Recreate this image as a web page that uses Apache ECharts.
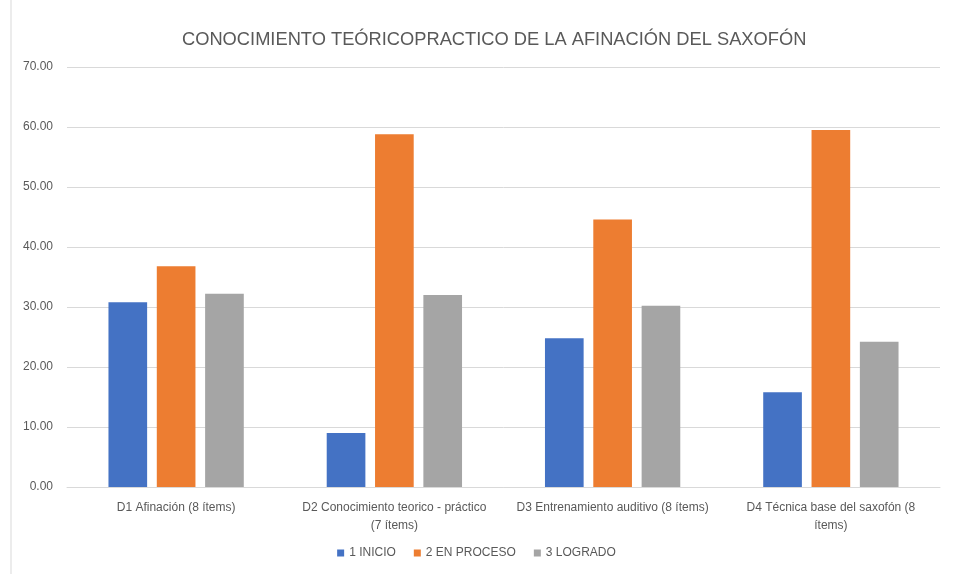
<!DOCTYPE html>
<html>
<head>
<meta charset="utf-8">
<script src="https://cdn.jsdelivr.net/npm/echarts@6/dist/echarts.min.js"></script>
<style>html,body{margin:0;padding:0;background:#fff}#c{width:953px;height:574px}</style>
</head>
<body>
<div id="c"></div>
<script>
const titleText = 'CONOCIMIENTO TEÓRICOPRACTICO DE LA AFINACIÓN DEL SAXOFÓN';
const categories = [
  'D1 Afinación (8 ítems)',
  'D2 Conocimiento teorico - práctico\n(7 ítems)',
  'D3 Entrenamiento auditivo (8 ítems)',
  'D4 Técnica base del saxofón (8\nítems)'
];
const seriesNames = ['1 INICIO', '2 EN PROCESO', '3 LOGRADO'];
const inicio = [30.8, 9.0, 24.8, 15.8];
const enProceso = [36.8, 58.8, 44.6, 59.5];
const logrado = [32.2, 32.0, 30.2, 24.2];
const colors = ['#4472C4', '#ED7D31', '#A5A5A5'];

const font = '"Liberation Sans", sans-serif';
const chart = echarts.init(document.getElementById('c'));
const data = [inicio, enProceso, logrado];
chart.setOption({
  animation: false,
  color: colors,
  title: {
    text: titleText, left: 177, top: 26,
    textStyle: { fontFamily: font, fontSize: 18.3, fontWeight: 'normal', color: '#595959' }
  },
  legend: {
    bottom: 10, left: 'center', itemWidth: 7, itemHeight: 7, itemGap: 18, icon: 'rect',
    textStyle: { fontFamily: font, fontSize: 12, color: '#595959' },
    data: seriesNames
  },
  grid: { left: 67, right: 13, top: 67, bottom: 87 },
  xAxis: {
    type: 'category', data: categories,
    axisLine: { lineStyle: { color: '#D9D9D9' } },
    axisTick: { show: false },
    axisLabel: { interval: 0, fontFamily: font, fontSize: 12, color: '#595959', margin: 12, lineHeight: 18 }
  },
  yAxis: {
    type: 'value', min: 0, max: 70, interval: 10,
    axisLine: { show: false }, axisTick: { show: false },
    splitLine: { lineStyle: { color: '#D9D9D9' } },
    axisLabel: { fontFamily: font, fontSize: 12, color: '#595959', margin: 14,
      formatter: v => v.toFixed(2) }
  },
  graphic: [{ type: 'line', shape: { x1: 11, y1: 0, x2: 11, y2: 574 }, style: { stroke: '#D9D9D9', lineWidth: 1 } }],
  series: seriesNames.map((n, i) => ({
    name: n, type: 'bar', data: data[i], barGap: '25%', barCategoryGap: '38%'
  }))
});
</script>
</body>
</html>
